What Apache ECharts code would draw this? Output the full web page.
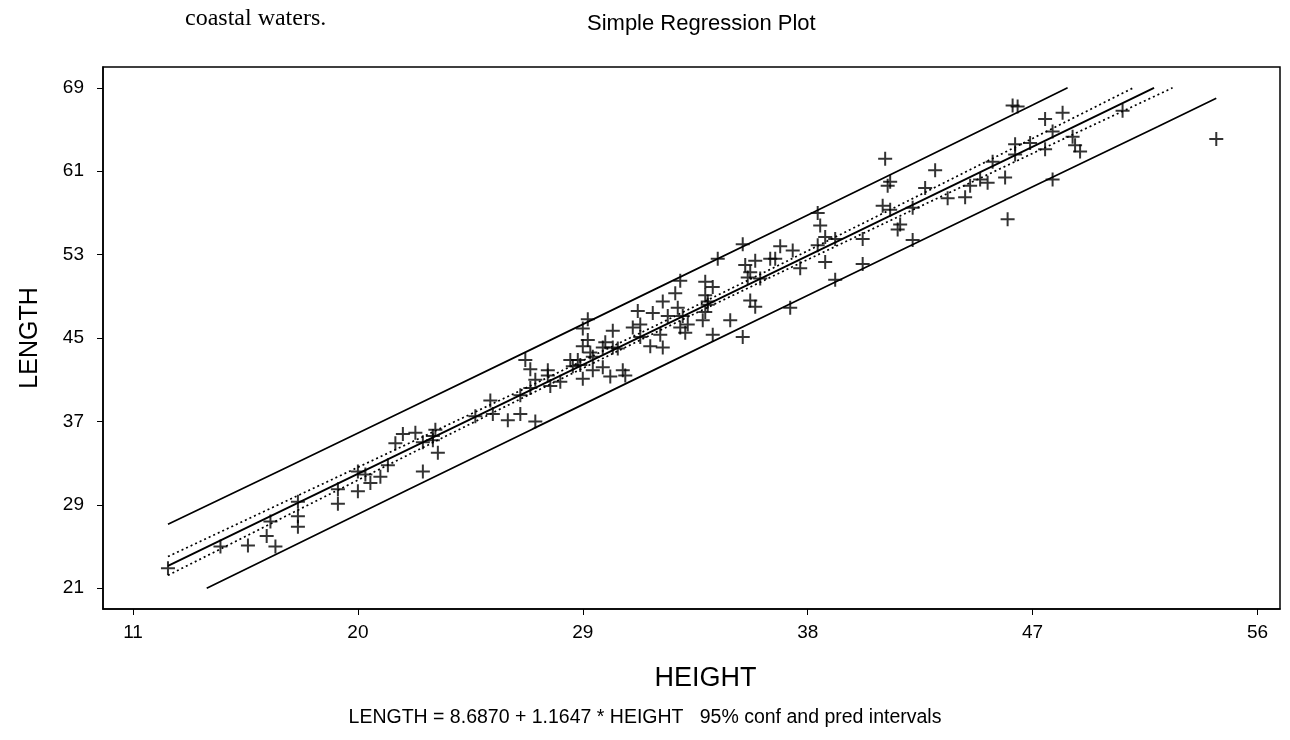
<!DOCTYPE html>
<html>
<head>
<meta charset="utf-8">
<script src="https://cdn.jsdelivr.net/npm/echarts@6/dist/echarts.min.js"></script>
<style>
  html, body { margin: 0; padding: 0; background: #ffffff; }
  #chart { width: 1290px; height: 740px; }
</style>
</head>
<body>
<div id="chart"></div>
<script>
// ---- data ----
const xTicks = [11, 20, 29, 38, 47, 56];
const yTicks = [21, 29, 37, 45, 53, 61, 69];

const heights = [
  12.4, 14.5, 15.6, 16.35, 16.7, 16.5, 17.6, 17.6, 17.6, 19.2,
  19.2, 20.0, 20.0, 20.5, 20.9, 20.3, 21.2, 21.5, 21.8, 22.3,
  22.6, 22.6, 23.0, 23.1, 23.2, 23.0, 24.7, 25.3, 25.4, 26.0,
  26.5, 27.1, 26.7, 26.9, 27.6, 27.1, 27.7, 28.1, 29.0, 29.4,
  28.8, 26.5, 26.9, 27.6, 28.5, 29.2, 29.4, 29.8, 30.1, 29.9,
  30.2, 30.6, 30.7, 30.4, 29.0, 29.2, 29.0, 29.3, 29.8, 30.2,
  31.0, 31.2, 31.3, 31.3, 31.7, 31.8, 32.1, 32.2, 32.2, 32.4,
  32.7, 32.9, 32.8, 32.9, 33.1, 33.2, 33.0, 33.9, 33.9, 34.0,
  33.8, 33.9, 34.2, 34.9, 35.4, 35.5, 35.7, 28.6, 38.4, 38.5,
  38.7, 39.1, 38.4, 36.9, 37.4, 36.5, 36.7, 35.9, 35.7, 35.6,
  36.1, 37.7, 38.7, 40.2, 40.2, 39.1, 35.9, 37.3, 34.2, 34.0,
  34.4, 35.4, 41.7, 41.6, 42.2, 46.2, 46.4, 47.5, 48.2, 47.8,
  46.3, 46.9, 46.3, 47.5, 48.6, 48.7, 48.9, 50.6, 41.1, 41.3,
  41.2, 43.1, 42.7, 43.6, 44.3, 44.5, 44.9, 45.2, 45.4, 45.9,
  41.0, 41.3, 42.2, 46.0, 47.8, 54.35, 28.9
];
const lengths = [
  22.9, 25.0, 25.1, 26.0, 25.0, 27.4, 29.3, 27.9, 26.9, 30.5,
  29.1, 32.2, 30.3, 31.1, 31.7, 31.9, 32.8, 34.9, 35.8, 35.9,
  35.0, 32.2, 35.2, 36.2, 34.0, 35.6, 37.5, 39.0, 37.7, 37.1,
  37.7, 37.0, 42.9, 42.0, 41.9, 41.0, 40.4, 40.8, 41.1, 41.9,
  42.9, 39.5, 40.2, 41.4, 42.9, 44.8, 43.2, 42.2, 41.3, 44.6,
  45.7, 41.9, 41.4, 44.0, 45.9, 46.8, 44.2, 43.6, 44.1, 44.1,
  46.0, 47.6, 46.3, 45.1, 44.2, 47.4, 45.3, 44.1, 48.5, 47.1,
  49.3, 50.5, 47.9, 46.0, 45.5, 46.3, 47.1, 50.4, 49.1, 48.2,
  46.7, 47.5, 45.3, 46.7, 45.1, 52.0, 48.6, 42.3, 57.0, 55.8,
  54.7, 54.5, 53.9, 53.8, 53.4, 52.6, 52.6, 52.4, 51.3, 50.8,
  50.7, 51.7, 52.3, 54.5, 52.1, 50.6, 48.0, 47.9, 49.9, 48.5,
  52.6, 54.0, 55.9, 55.4, 54.4, 67.3, 67.2, 66.0, 66.6, 64.8,
  63.6, 63.7, 62.6, 63.1, 64.3, 63.5, 62.9, 66.8, 62.2, 60.0,
  59.6, 61.1, 59.4, 58.4, 58.5, 59.6, 60.2, 59.9, 61.9, 60.4,
  57.7, 57.3, 57.5, 56.4, 60.2, 64.1, 42.4
];

// fitted line and interval curves as [HEIGHT, LENGTH]
const fitLine   = [[12.4, 23.13], [51.86, 69.0]];
const confUpper = [[12.4, 24.03], [17, 29.21], [22, 34.85], [27, 40.52], [32, 46.29], [37, 52.17], [42, 58.14], [47, 64.15], [51.03, 69.0]];
const confLower = [[12.4, 22.23], [17, 27.77], [22, 33.77], [27, 39.74], [32, 45.63], [37, 51.39], [42, 57.06], [47, 62.71], [52.6, 69.0]];
const predUpper = [[12.4, 27.13], [17, 32.41], [22, 38.18], [27, 43.98], [32, 49.81], [37, 55.63], [42, 61.47], [47, 67.35], [48.4, 69.0]];
const predLower = [[13.95, 21.0], [17, 24.57], [22, 30.44], [27, 36.28], [32, 42.11], [37, 47.93], [42, 53.73], [47, 59.51], [52, 65.27], [54.35, 68.0]];

// ---- chart ----
const chart = echarts.init(document.getElementById('chart'), null, { renderer: 'canvas' });
const FONT = '"Liberation Sans", Arial, sans-serif';
const points = heights.map((h, i) => [h, lengths[i]]);
const plusPath = 'path://M6,0H8V14H6Z M0,6H14V8H0Z';

function lineSeries(name, data, type, width) {
  return {
    name: name, type: 'line', data: data, showSymbol: false, symbol: 'none',
    silent: true, z: 2,
    lineStyle: { color: '#000', width: width, type: type }
  };
}

chart.setOption({
  animation: false,
  backgroundColor: '#ffffff',
  title: {
    text: 'Simple Regression Plot',
    left: 582, top: 8,
    textStyle: { fontFamily: FONT, fontSize: 22, fontWeight: 'normal', color: '#000' }
  },
  graphic: [
    {
      type: 'text', left: 185, top: 7,
      style: { text: 'coastal waters.', font: '24px "Liberation Serif", "Times New Roman", serif', fill: '#000' }
    },
    {
      type: 'text', left: 'center', top: 708,
      style: { text: 'LENGTH = 8.6870 + 1.1647 * HEIGHT   95% conf and pred intervals',
               font: '19.5px "Liberation Sans", Arial, sans-serif', fill: '#000' }
    }
  ],
  grid: {
    left: 103, top: 67, width: 1177, height: 542,
    show: true, borderColor: '#000', borderWidth: 1.5, backgroundColor: '#fff'
  },
  xAxis: {
    type: 'value', min: 9.8, max: 56.9,
    name: 'HEIGHT', nameLocation: 'middle', nameGap: 56,
    nameTextStyle: { fontFamily: FONT, fontSize: 27, color: '#000', padding: [0, 0, 0, 28] },
    axisLine: { show: true, lineStyle: { color: '#000', width: 1.5 } },
    axisTick: { show: true, length: 6, customValues: xTicks, lineStyle: { color: '#000', width: 1 } },
    axisLabel: { customValues: xTicks, fontFamily: FONT, fontSize: 19, color: '#000', margin: 14 },
    splitLine: { show: false }
  },
  yAxis: {
    type: 'value', min: 19, max: 71,
    name: 'LENGTH', nameLocation: 'middle', nameGap: 60, nameRotate: 90,
    nameTextStyle: { fontFamily: FONT, fontSize: 25, color: '#000' },
    axisLine: { show: true, lineStyle: { color: '#000', width: 1.5 } },
    axisTick: { show: true, length: 6, customValues: yTicks, lineStyle: { color: '#000', width: 1 } },
    axisLabel: { customValues: yTicks, fontFamily: FONT, fontSize: 19, color: '#000', margin: 19 },
    splitLine: { show: false }
  },
  series: [
    lineSeries('pred upper', predUpper, 'solid', 1.7),
    lineSeries('pred lower', predLower, 'solid', 1.7),
    lineSeries('conf upper', confUpper, [2, 3], 1.7),
    lineSeries('conf lower', confLower, [2, 3], 1.7),
    lineSeries('fit', fitLine, 'solid', 1.9),
    {
      name: 'data', type: 'scatter', data: points, z: 3,
      symbol: plusPath, symbolSize: 14,
      itemStyle: { color: '#000' }
    }
  ]
});
</script>
</body>
</html>
